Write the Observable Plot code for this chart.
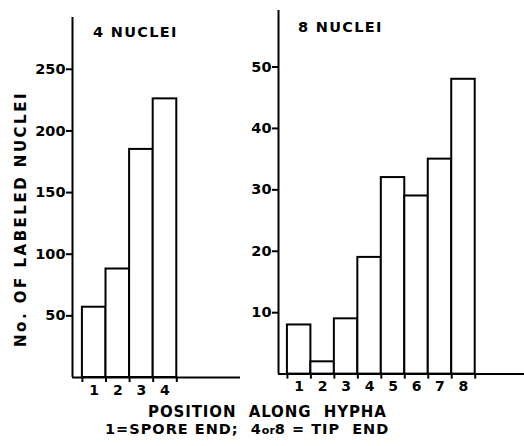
<!DOCTYPE html>
<html>
<head>
<meta charset="utf-8">
<script src="https://cdn.jsdelivr.net/npm/d3@7"></script>
<script src="https://cdn.jsdelivr.net/npm/@observablehq/plot@0.6"></script>
<style>
  html, body { margin: 0; padding: 0; background: white; }
  #wrap { position: relative; width: 524px; height: 446px; overflow: hidden; font-family: "DejaVu Sans", sans-serif; font-weight: bold; color: #000; }
  #wrap .panel { position: absolute; top: 0; }
  .lbl { position: absolute; white-space: pre; line-height: 1; font-weight: bold; }
</style>
</head>
<body>
<div id="wrap"></div>
<script>
// ---- data ----
const positions4 = ["1", "2", "3", "4"];
const counts4 = [57, 88, 185, 226];
const yTicks4 = [50, 100, 150, 200, 250];

const positions8 = ["1", "2", "3", "4", "5", "6", "7", "8"];
const counts8 = [8, 2, 9, 19, 32, 29, 35, 48];
const yTicks8 = [10, 20, 30, 40, 50];

const title4 = "4 NUCLEI";
const title8 = "8 NUCLEI";
const yLabel = "No. OF LABELED NUCLEI";
const xLabel = "POSITION  ALONG  HYPHA";
const caption = ["1=SPORE END;  ", "4", "or", "8", " = TIP  END"];

function panel({counts, labels, yTicks, yMax, xMin, xMax, width, marginLeft, marginRight, marginTop, marginBottom, labelPad}) {
  const data = counts.map((v, i) => ({i, v, label: labels[i]}));
  const edges = d3.range(counts.length + 1);
  return Plot.plot({
    width, height: 446,
    marginLeft, marginRight, marginTop, marginBottom,
    style: {background: "transparent", overflow: "visible", fontFamily: "DejaVu Sans", fontWeight: "bold", fontSize: "14px", color: "#000"},
    x: {domain: [xMin, xMax], axis: null},
    y: {domain: [0, yMax], axis: null},
    marks: [
      Plot.rect(data, {x1: "i", x2: d => d.i + 1, y1: () => 0, y2: "v", fill: "white", stroke: "black", strokeWidth: 2}),
      Plot.ruleY([0], {stroke: "black", strokeWidth: 2}),
      Plot.ruleX([xMin], {stroke: "black", strokeWidth: 2}),
      Plot.axisY({ticks: yTicks, tickSize: 6, tickPadding: 1, strokeWidth: 2, label: null, tickFormat: d => String(d), fill: "black", fontSize: 14.5}),
      Plot.axisX({ticks: edges, tickSize: 5, strokeWidth: 2, label: null, tickFormat: () => ""}),
      Plot.axisX({ticks: data.map(d => d.i + 0.5), tickSize: 0, tickPadding: labelPad, label: null, tickFormat: d => labels[Math.floor(d)], fill: "black", fontSize: 14})
    ]
  });
}

const wrap = document.getElementById("wrap");

const left = panel({counts: counts4, labels: positions4, yTicks: yTicks4, yMax: 292,
  xMin: -0.42, xMax: 6.7, width: 245, marginLeft: 72, marginRight: 5, marginTop: 17, marginBottom: 69, labelPad: 8});
left.classList.add("panel");
left.style.left = "0px";
wrap.appendChild(left);

const right = panel({counts: counts8, labels: positions8, yTicks: yTicks8, yMax: 59.2,
  xMin: -0.38, xMax: 10.1, width: 279, marginLeft: 33, marginRight: 0, marginTop: 10, marginBottom: 72.4, labelPad: 7});
right.classList.add("panel");
right.style.left = "245px";
wrap.appendChild(right);

function addLabel(text, css) {
  const d = document.createElement("div");
  d.className = "lbl";
  d.textContent = text;
  Object.assign(d.style, css);
  wrap.appendChild(d);
  return d;
}

addLabel(title4, {left: "93px", top: "25px", fontSize: "14.5px", letterSpacing: "1.3px"});
addLabel(title8, {left: "298px", top: "20px", fontSize: "14.5px", letterSpacing: "1.3px"});
addLabel(yLabel, {left: "21px", top: "219px", fontSize: "15px", letterSpacing: "2.5px",
  transform: "translate(-50%, -50%) rotate(-90deg)"});
addLabel(xLabel, {left: "148px", top: "405px", fontSize: "15px", letterSpacing: "0.9px"});

const cap = document.createElement("div");
cap.className = "lbl";
Object.assign(cap.style, {left: "105px", top: "422px", fontSize: "14.5px", letterSpacing: "1px"});
caption.forEach(t => {
  const s = document.createElement("span");
  s.textContent = t;
  if (t === "or") { s.style.fontSize = "11px"; s.style.letterSpacing = "0px"; }
  cap.appendChild(s);
});
wrap.appendChild(cap);
</script>
</body>
</html>
